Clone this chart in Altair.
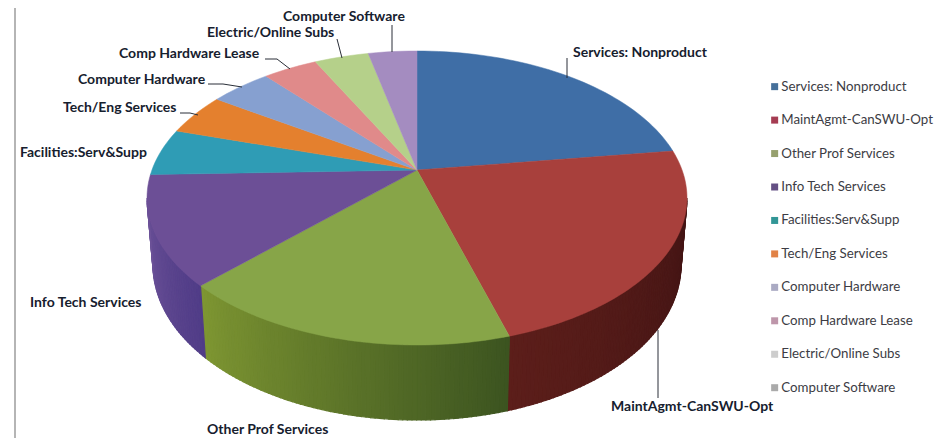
import cmath
import math
import altair as alt
import pandas as pd

categories = ["Services: Nonproduct", "MaintAgmt-CanSWU-Opt", "Other Prof Services",
              "Info Tech Services", "Facilities:Serv&Supp", "Tech/Eng Services",
              "Computer Hardware", "Comp Hardware Lease", "Electric/Online Subs",
              "Computer Software"]
shares = [22.8, 22.6, 17.1, 12.0, 5.2, 4.6, 4.4, 3.9, 3.9, 3.5]

face_colors = ["#3f6ea6", "#a8403c", "#87a548", "#6c4f96", "#2f9cb5",
               "#e4802e", "#86a0d0", "#e08a8a", "#b5d08a", "#a48cc0"]
legend_colors = ["#46709a", "#a53c52", "#96a06e", "#645084", "#329696",
                 "#e18246", "#aaaac3", "#be96aa", "#cdcdcd", "#aaaaaa"]
side_colors = {0: ((70, 22, 20), (70, 22, 20)),
               1: ((66, 20, 20), (92, 30, 26)),
               2: ((60, 84, 32), (126, 150, 50)),
               3: ((80, 60, 135), (108, 82, 152))}

OX, OY = 8, 8
W, H = 927, 430
CX, CY, RX, RY = 417 - OX, 198 - OY, 270, 147
BX, BY, BRX, BRY = 417 - OX, 265 - OY, 264, 155
APEX_R = 0.19
Q = APEX_R / (1 + math.sqrt(1 - APEX_R ** 2))


def rim_angle(percent):
    w = cmath.exp(1j * math.radians(percent * 3.6))
    a = math.degrees(cmath.phase((w + Q) / (1 + Q * w)))
    return a % 360 if percent > 0 else 0.0


def top_pt(a):
    r = math.radians(a)
    return [CX + RX * math.sin(r), CY - RY * math.cos(r)]


def bot_pt(a):
    r = math.radians(a)
    return [BX + BRX * math.sin(r), BY - BRY * math.cos(r)]


def feature(coords, fill, kind="Polygon"):
    return {"type": "Feature", "properties": {"fill": fill},
            "geometry": {"type": kind, "coordinates": [coords] if kind == "Polygon" else coords}}


apex = [CX, CY - RY * APEX_R]
edges = [0.0]
for s in shares:
    edges.append(edges[-1] + s)
angles = [rim_angle(p) for p in edges[:-1]] + [360.0]

faces, sides = [], []
for i, color in enumerate(face_colors):
    a0, a1 = angles[i], angles[i + 1]
    n = max(3, int((a1 - a0) / 1.5))
    arc = [top_pt(a0 + (a1 - a0) * k / n) for k in range(n + 1)]
    faces.append(feature([apex] + arc + [apex], color))
    lo, hi = max(a0, 90.0), min(a1, 270.0)
    if lo < hi and i in side_colors:
        steps = max(1, int(hi - lo))
        c0, c1 = side_colors[i]
        for k in range(steps):
            b0, b1 = lo + (hi - lo) * k / steps, lo + (hi - lo) * (k + 1) / steps
            t = (k + 0.5) / steps
            rgb = tuple(round(c0[j] + (c1[j] - c0[j]) * t) for j in range(3))
            fill = "#%02x%02x%02x" % rgb
            p = [top_pt(b0), top_pt(b1), bot_pt(b1), bot_pt(b0), top_pt(b0)]
            sides.append(feature(p, fill))

label_font = "Lato"
label_color = "#16202e"
labels = [("Computer Software", 283, 17), ("Electric/Online Subs", 207, 33),
          ("Comp Hardware Lease", 119, 54), ("Computer Hardware", 78, 80),
          ("Tech/Eng Services", 63, 108), ("Facilities:Serv&Supp", 20, 153),
          ("Services: Nonproduct", 573, 53), ("Info Tech Services", 30, 303),
          ("MaintAgmt-CanSWU-Opt", 611, 407), ("Other Prof Services", 207, 430)]
leaders = [[(392, 25), (392, 52)], [(337, 39), (342, 58)],
           [(265, 59), (277, 59), (290, 69)], [(208, 84), (223, 84), (242, 87)],
           [(180, 113), (190, 113), (198, 115)], [(567, 58), (567, 78)],
           [(658, 330), (658, 398)]]
leader_features = [feature([[x - OX, y - OY] for x, y in ln], "#2a2f38", "LineString") for ln in leaders]

proj = alt.Projection(type="identity", scale=1, translate=[0, 0])


def geo(features):
    return alt.Chart(alt.Data(values=features))


side_layer = geo(sides).mark_geoshape(strokeWidth=1.2).encode(
    fill=alt.Fill("properties.fill:N", scale=None),
    stroke=alt.Stroke("properties.fill:N", scale=None)).project(**proj.to_dict())
face_layer = geo(faces).mark_geoshape(strokeWidth=0.5).encode(
    fill=alt.Fill("properties.fill:N", scale=None),
    stroke=alt.Stroke("properties.fill:N", scale=None)).project(**proj.to_dict())
leader_layer = geo(leader_features).mark_geoshape(filled=False, strokeWidth=1, stroke="#2a2f38").project(**proj.to_dict())

frame_layer = alt.Chart(pd.DataFrame({"k": [0]})).mark_rule(color="#9c9c9c", strokeWidth=1.5).encode(
    x=alt.value(15 - OX), y=alt.value(0), y2=alt.value(H))

text_layers = [
    alt.Chart(pd.DataFrame({"t": [t]})).mark_text(
        font=label_font, fontWeight="bold", fontSize=14, align="left", baseline="middle",
        color=label_color).encode(text="t:N", x=alt.value(x - OX), y=alt.value(y - OY))
    for t, x, y in labels
]

legend_layer = alt.Chart(pd.DataFrame({"name": categories})).mark_square(size=49, opacity=0).encode(
    x=alt.value(0), y=alt.value(0),
    color=alt.Color("name:N", scale=alt.Scale(domain=categories, range=legend_colors),
                    legend=alt.Legend(orient="none", legendX=768 - OX, legendY=80 - OY, title=None,
                                      symbolType="square", symbolSize=49, symbolOpacity=1,
                                      labelFont="Lato", labelFontSize=13.3, labelColor="#3c3c44",
                                      labelOffset=0, rowPadding=19.45, padding=0,
                                      labelLimit=200)))

chart = alt.layer(frame_layer, side_layer, face_layer, leader_layer, legend_layer, *text_layers).properties(
    width=W, height=H, padding=0,
    autosize=alt.AutoSizeParams(type="none"),
    background="white",
).configure_view(stroke=None)

chart.save("out.html", embed_options={"renderer": "svg", "actions": False})
